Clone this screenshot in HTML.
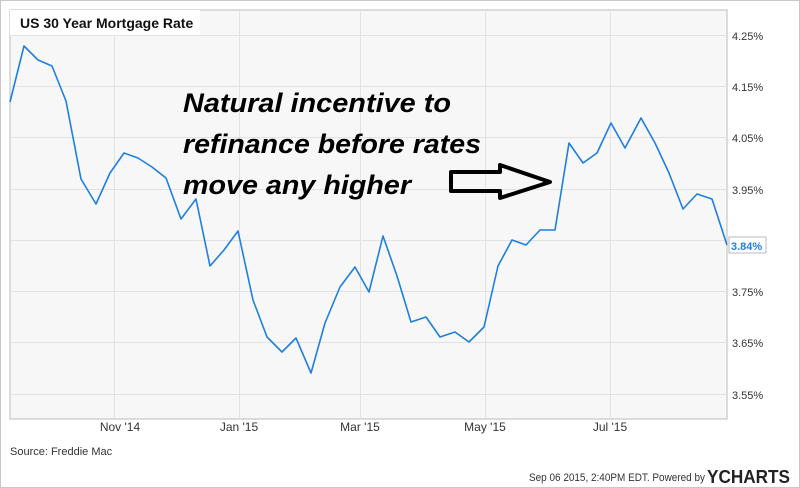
<!DOCTYPE html>
<html><head><style>
html,body{margin:0;padding:0;background:#fff;}
svg{display:block;font-family:"Liberation Sans",Arial,sans-serif;}
</style></head><body>
<svg width="800" height="488" viewBox="0 0 800 488" xmlns="http://www.w3.org/2000/svg">
<rect x="0.5" y="0.5" width="799" height="487" fill="#fff" stroke="#c8c8c8"/>
<rect x="10" y="10" width="717" height="409" fill="#f7f7f7" stroke="#bbb"/>
<g stroke="#e2e2e2" stroke-width="1">
<line x1="10" x2="727" y1="35.5" y2="35.5"/>
<line x1="10" x2="727" y1="86.5" y2="86.5"/>
<line x1="10" x2="727" y1="137.5" y2="137.5"/>
<line x1="10" x2="727" y1="189.5" y2="189.5"/>
<line x1="10" x2="727" y1="240.5" y2="240.5"/>
<line x1="10" x2="727" y1="291.5" y2="291.5"/>
<line x1="10" x2="727" y1="342.5" y2="342.5"/>
<line x1="10" x2="727" y1="394.5" y2="394.5"/>
<line x1="114.5" x2="114.5" y1="10" y2="419"/>
<line x1="239.5" x2="239.5" y1="10" y2="419"/>
<line x1="360.5" x2="360.5" y1="10" y2="419"/>
<line x1="485.5" x2="485.5" y1="10" y2="419"/>
<line x1="610.5" x2="610.5" y1="10" y2="419"/>
</g>
<rect x="10" y="10" width="190" height="25" fill="#fff"/>
<text x="20" y="28" font-size="14" font-weight="bold" fill="#111">US 30 Year Mortgage Rate</text>
<g font-size="11" fill="#333">
<text x="732" y="40">4.25%</text>
<text x="732" y="91">4.15%</text>
<text x="732" y="142">4.05%</text>
<text x="732" y="194">3.95%</text>
<text x="732" y="296">3.75%</text>
<text x="732" y="347">3.65%</text>
<text x="732" y="399">3.55%</text>
</g>
<g font-size="12" fill="#333" text-anchor="middle">
<text x="120" y="431">Nov '14</text>
<text x="239" y="431">Jan '15</text>
<text x="360" y="431">Mar '15</text>
<text x="485" y="431">May '15</text>
<text x="610" y="431">Jul '15</text>
</g>
<text x="10" y="455" font-size="11" fill="#333">Source: Freddie Mac</text>
<text x="529" y="481" font-size="11" fill="#333" textLength="176" lengthAdjust="spacingAndGlyphs">Sep 06 2015, 2:40PM EDT. Powered by</text>
<text x="707" y="483" font-size="18" font-weight="bold" fill="#222" textLength="83" lengthAdjust="spacingAndGlyphs">YCHARTS</text>
<polyline fill="none" stroke="#1e7fe0" stroke-width="1.6" stroke-linejoin="round" points="10,102 24,46 38,60 52,66 66,101 81,179 96,204 110,173 124,153 138,158 152,167 166,178 181,219 196,199 210,266 224,250 238,231 253,300 267,337 282,352 296,338 311,373 325,323 340,287 355,267 369,292 383,236 397,276 411,322 426,317 440,337 455,332 469,342 484,327 498,266 512,240 526,245 540,230 555,230 569,143 583,163 597,153 611,123 625,148 641,118 655,143 669,173 683,209 697,194 712,199 727,245"/>
<rect x="729" y="237" width="37" height="16" fill="#fff" stroke="#bbb"/>
<text x="731" y="250" font-size="11" font-weight="bold" fill="#1e7fe0">3.84%</text>
<g font-size="27" font-weight="bold" font-style="italic" fill="#000">
<text x="183" y="112" textLength="268" lengthAdjust="spacingAndGlyphs">Natural incentive to</text>
<text x="183" y="153" textLength="298" lengthAdjust="spacingAndGlyphs">refinance before rates</text>
<text x="183" y="194" textLength="228" lengthAdjust="spacingAndGlyphs">move any higher</text>
</g>
<polygon points="451,172 500,172 500,165 550,182 500,198 500,191 451,191" fill="none" stroke="#000" stroke-width="4" stroke-linejoin="round"/>
</svg>
</body></html>
